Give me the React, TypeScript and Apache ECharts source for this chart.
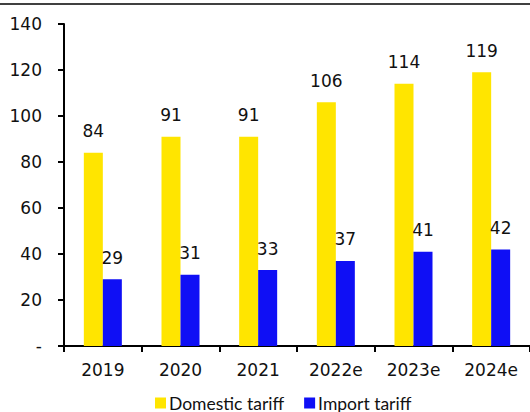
import React, { useEffect, useRef } from "react";
import * as echarts from "echarts";

const categories = ["2019", "2020", "2021", "2022e", "2023e", "2024e"];
const domestic = [84, 91, 91, 106, 114, 119];
const importTariff = [29, 31, 33, 37, 41, 42];
const seriesNames = ["Domestic tariff", "Import tariff"];

const FONT = "'DejaVu Sans', sans-serif";
const LEGEND_FONT = "Lato, 'DejaVu Sans', sans-serif";

export default function App() {
  const ref = useRef<HTMLDivElement>(null);
  useEffect(() => {
    if (!ref.current) return;
    const chart = echarts.init(ref.current, undefined, { renderer: "svg" });
    const labelStyle = {
      show: true,
      position: "top" as const,
      distance: 13,
      color: "#111",
      fontSize: 17,
      fontFamily: FONT,
    };
    chart.setOption({
      animation: false,
      backgroundColor: "#fff",
      textStyle: { fontFamily: FONT },
      grid: { left: 64, top: 24, width: 479, height: 322, containLabel: false },
      legend: {
        left: 150,
        top: 389,
        itemWidth: 11,
        itemHeight: 11,
        itemGap: 20,
        icon: "rect",
        textStyle: { fontSize: 17.5, color: "#111", fontFamily: LEGEND_FONT, padding: [0, 0, 0, -2] },
        data: seriesNames,
      },
      graphic: [
        {
          type: "line",
          shape: { x1: 0, y1: 4, x2: 530, y2: 4 },
          style: { stroke: "#000", lineWidth: 1.5 },
        },
      ],
      xAxis: {
        type: "category",
        data: categories,
        axisLine: { lineStyle: { color: "#000", width: 2 } },
        axisTick: { show: true, length: 6, lineStyle: { color: "#000", width: 2 } },
        axisLabel: { color: "#111", fontSize: 17, margin: 15, fontFamily: FONT },
      },
      yAxis: {
        type: "value",
        min: 0,
        max: 140,
        interval: 20,
        splitLine: { show: false },
        axisLine: { show: true, lineStyle: { color: "#000", width: 2 } },
        axisTick: { show: true, length: 6, lineStyle: { color: "#000", width: 2 } },
        axisLabel: {
          color: "#111",
          fontSize: 17,
          margin: 22,
          fontFamily: FONT,
          formatter: (v: number) => (v === 0 ? "-" : String(v)),
        },
      },
      series: [
        {
          name: seriesNames[0],
          type: "bar",
          data: domestic,
          barWidth: 19,
          barGap: "0%",
          itemStyle: { color: "#FFE500" },
          label: labelStyle,
        },
        {
          name: seriesNames[1],
          type: "bar",
          data: importTariff,
          barWidth: 19,
          barGap: "0%",
          itemStyle: { color: "#0F0FF5" },
          label: labelStyle,
        },
      ],
    });
    return () => chart.dispose();
  }, []);
  return (
    <div
      ref={ref}
      style={{ position: "fixed", left: 0, top: 0, width: 530, height: 412 }}
    />
  );
}
